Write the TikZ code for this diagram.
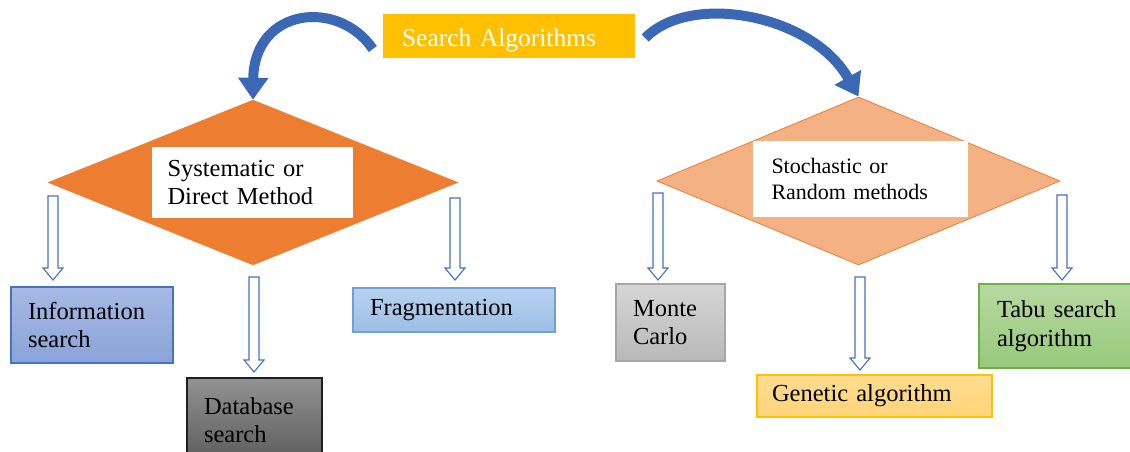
\documentclass[tikz,border=0pt]{standalone}
\usepackage{fontspec}
\setmainfont{Liberation Serif}
\usetikzlibrary{shapes.geometric,arrows.meta,calc}

\definecolor{titlefill}{HTML}{FFC000}
\definecolor{curveblue}{HTML}{3B68B4}
\definecolor{hollowblue}{HTML}{4472C4}
\definecolor{darkorange}{HTML}{ED7D31}
\definecolor{lightsalmon}{HTML}{F4B183}
\definecolor{infotop}{RGB}{166,185,227}
\definecolor{infobot}{RGB}{139,163,217}
\definecolor{dbtop}{RGB}{146,146,146}
\definecolor{dbbot}{RGB}{92,92,92}
\definecolor{dbline}{RGB}{31,31,31}
\definecolor{fragtop}{RGB}{184,210,240}
\definecolor{fragbot}{RGB}{155,191,230}
\definecolor{fragline}{RGB}{112,160,214}
\definecolor{montetop}{RGB}{214,214,214}
\definecolor{montebot}{RGB}{185,185,185}
\definecolor{monteline}{RGB}{166,166,166}
\definecolor{gentop}{RGB}{255,220,142}
\definecolor{genbot}{RGB}{255,212,122}
\definecolor{tabutop}{RGB}{183,217,162}
\definecolor{tabubot}{RGB}{151,201,122}
\definecolor{tabuline}{RGB}{112,173,71}

\newcommand{\boxfont}{\fontsize{24.5}{28.5}\selectfont}
\newcommand{\smallboxfont}{\fontsize{22}{26}\selectfont}
\newcommand{\titlefont}{\fontsize{25.5}{30}\selectfont}

% hollow block arrow pointing down, from #1 (top of shaft) to #2 (tip)
\newcommand{\hollowdown}[2]{%
  \draw[hollow] let \p1=(#1), \p2=(#2) in
    (\x1-5pt,\y1) -- (\x1+5pt,\y1) -- (\x1+5pt,\y2+12pt) -- (\x1+10pt,\y2+12pt)
    -- (\x1,\y2) -- (\x1-10pt,\y2+12pt) -- (\x1-5pt,\y2+12pt) -- cycle;}

\begin{document}
\begin{tikzpicture}[x=1pt,y=-1pt,
  leaf/.style={draw, line width=1.2pt, align=left, inner xsep=17pt, inner ysep=0pt,
    font=\boxfont, text=black},
  hollow/.style={draw=hollowblue, fill=white, line width=1.1pt, line join=miter},
  curvearrow/.style={draw=curveblue, line width=10pt,
    -{Triangle[width=29pt,length=22pt]}},
  methodbox/.style={fill=white, align=left, inner ysep=0pt, text=black}]

\useasboundingbox (0,0) rectangle (1130,452);
\clip (0,0) rectangle (1130,452);

% title
\node[fill=titlefill, text=white, font=\titlefont, minimum width=252pt, minimum height=44pt,
  text width=214pt, inner xsep=19pt, inner ysep=0pt, align=left,
  text height=27.6pt, text depth=5.6pt] (title) at (509,36) {Search Algorithms};

% the two method families
\node[diamond, fill=darkorange, draw=darkorange, minimum width=410pt, minimum height=165pt,
  inner sep=0pt] (ldia) at (253,182.5) {};
\node[diamond, fill=lightsalmon, draw=darkorange, line width=0.8pt, minimum width=403pt,
  minimum height=168pt, inner sep=0pt] (rdia) at (858.5,181) {};

\node[methodbox, font=\boxfont, minimum width=201pt, minimum height=71pt,
  text width=170pt, inner xsep=15.5pt] (lbox) at (252.5,182.5)
  {Systematic or\\Direct Method};
\node[methodbox, font=\smallboxfont, minimum width=215pt, minimum height=76pt,
  text width=178pt, inner xsep=18.5pt] (rbox) at (860.5,179)
  {Stochastic or\\Random methods};

% curved arrows from the title
\draw[curvearrow] ($(title.west)+(-10,13)$) .. controls (338,-2) and (254,8) .. (ldia.north);
\draw[curvearrow] ($(title.east)+(10,2)$) .. controls (690,-8) and (812,14) .. (rdia.north);

% leaves of the systematic family
\node[leaf, top color=infotop, bottom color=infobot, draw=hollowblue,
  minimum width=162pt, minimum height=76pt, text width=128pt]
  (info) at (92,325) {Information\\search};
\node[leaf, top color=dbtop, bottom color=dbbot, draw=dbline,
  minimum width=135pt, minimum height=84pt, text width=101pt]
  (db) at (254.5,420) {Database\\search};
\node[leaf, top color=fragtop, bottom color=fragbot, draw=fragline,
  minimum width=202pt, minimum height=44pt, text width=168pt]
  (frag) at (454,310) {Fragmentation};

% leaves of the stochastic family
\node[leaf, top color=montetop, bottom color=montebot, draw=monteline,
  minimum width=109pt, minimum height=77pt, text width=75pt]
  (monte) at (670.5,322.5) {Monte\\Carlo};
\node[leaf, top color=gentop, bottom color=genbot, draw=titlefill, inner xsep=15pt,
  minimum width=235pt, minimum height=42pt, text width=205pt]
  (gen) at (874.5,396) {Genetic algorithm};
\node[leaf, top color=tabutop, bottom color=tabubot, draw=tabuline, inner xsep=18pt,
  minimum width=171pt, minimum height=84pt, text width=135pt]
  (tabu) at (1064.5,326) {Tabu search\\algorithm};

% hollow arrows: shaft tops and tips
\coordinate (a1s) at (53,196);   \coordinate (a1e) at (53,280);
\coordinate (a2s) at (254,277);  \coordinate (a2e) at (254,372);
\coordinate (a3s) at (455,198);  \coordinate (a3e) at (455,280);
\coordinate (a4s) at (658,193);  \coordinate (a4e) at (658,280);
\coordinate (a5s) at (860,277);  \coordinate (a5e) at (860,370);
\coordinate (a6s) at (1062,195); \coordinate (a6e) at (1062,280);
\hollowdown{a1s}{a1e}
\hollowdown{a2s}{a2e}
\hollowdown{a3s}{a3e}
\hollowdown{a4s}{a4e}
\hollowdown{a5s}{a5e}
\hollowdown{a6s}{a6e}
\end{tikzpicture}
\end{document}
